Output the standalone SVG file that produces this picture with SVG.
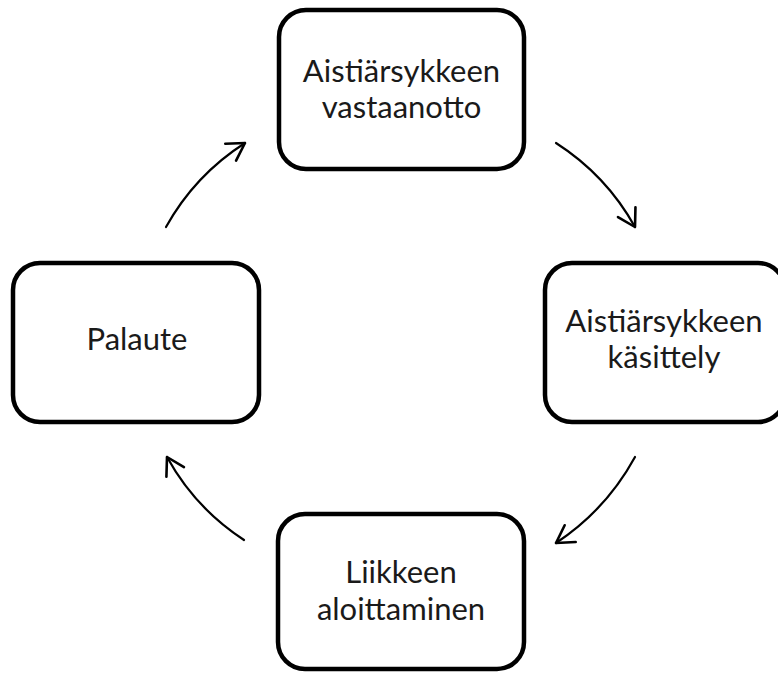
<svg xmlns="http://www.w3.org/2000/svg" width="778" height="673" viewBox="0 0 778 673">
<style>
.box{fill:#fff;stroke:#000;stroke-width:4.5}
.lbl{font-family:Lato,"Open Sans",sans-serif;font-size:31px;fill:#1a1a1a;text-anchor:middle}
.arr{fill:none;stroke:#000;stroke-width:2.2;stroke-linecap:round}
</style>
<defs>
<marker id="ah" markerUnits="userSpaceOnUse" viewBox="-22 -12 26 24" refX="0" refY="0" markerWidth="26" markerHeight="24" orient="auto" overflow="visible">
<path d="M -17 -10 L 0 0 L -17 10" fill="none" stroke="#000" stroke-width="2.6" stroke-linecap="round" stroke-linejoin="round"/>
</marker>
</defs>
<rect width="778" height="673" fill="#fff"/>
<g id="connectors">
<path class="arr" d="M 166 227 Q 195 175 245 143" marker-end="url(#ah)"/>
<path class="arr" d="M 556 143 Q 606 175 635 227" marker-end="url(#ah)"/>
<path class="arr" d="M 635 457 Q 606 510 556 543" marker-end="url(#ah)"/>
<path class="arr" d="M 244 540 Q 195 508 167 457" marker-end="url(#ah)"/>
</g>
<g id="node-vastaanotto">
<rect class="box" x="279" y="10" width="245" height="159" rx="27"/>
<text class="lbl" x="401.5" y="82">Aistiärsykkeen</text>
<text class="lbl" x="401.5" y="118">vastaanotto</text>
</g>
<g id="node-kasittely">
<rect class="box" x="545" y="263" width="240" height="159" rx="27"/>
<text class="lbl" x="664" y="332">Aistiärsykkeen</text>
<text class="lbl" x="664" y="368">käsittely</text>
</g>
<g id="node-aloittaminen">
<rect class="box" x="278" y="514" width="246" height="155" rx="27"/>
<text class="lbl" x="401" y="583">Liikkeen</text>
<text class="lbl" x="401" y="620">aloittaminen</text>
</g>
<g id="node-palaute">
<rect class="box" x="13" y="263" width="246" height="159" rx="27"/>
<text class="lbl" x="137" y="350">Palaute</text>
</g>
</svg>
